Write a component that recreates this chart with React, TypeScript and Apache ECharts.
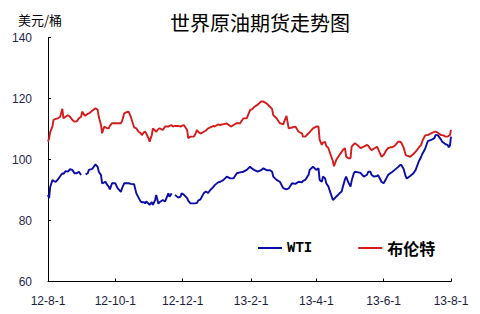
import React, { useEffect, useRef } from "react";
import * as echarts from "echarts";

const dates: string[] = [
  "2012-08-01","2012-08-02","2012-08-03","2012-08-05","2012-08-06","2012-08-08","2012-08-10","2012-08-12","2012-08-14","2012-08-15",
  "2012-08-17","2012-08-19","2012-08-21","2012-08-23","2012-08-25","2012-08-27","2012-08-29","2012-08-31","2012-09-01","2012-09-03",
  "2012-09-04","2012-09-06","2012-09-07","2012-09-10","2012-09-13","2012-09-15","2012-09-16","2012-09-18","2012-09-19","2012-09-21",
  "2012-09-22","2012-09-24","2012-09-25","2012-09-26","2012-09-28","2012-10-01","2012-10-03","2012-10-06","2012-10-07","2012-10-09",
  "2012-10-11","2012-10-13","2012-10-15","2012-10-18","2012-10-20","2012-10-22","2012-10-24","2012-10-25","2012-10-27","2012-10-28",
  "2012-10-29","2012-10-31","2012-11-01","2012-11-03","2012-11-04","2012-11-06","2012-11-07","2012-11-09","2012-11-10","2012-11-13",
  "2012-11-15","2012-11-18","2012-11-19","2012-11-21","2012-11-22","2012-11-24","2012-11-27","2012-11-29","2012-11-30","2012-12-02",
  "2012-12-05","2012-12-06","2012-12-08","2012-12-11","2012-12-12","2012-12-14","2012-12-15","2012-12-17","2012-12-20","2012-12-22",
  "2012-12-24","2012-12-26","2012-12-29","2012-12-30","2013-01-02","2013-01-04","2013-01-07","2013-01-10","2013-01-13","2013-01-14",
  "2013-01-16","2013-01-19","2013-01-22","2013-01-25","2013-01-28","2013-01-31","2013-02-02","2013-02-04","2013-02-07","2013-02-10",
  "2013-02-12","2013-02-15","2013-02-18","2013-02-20","2013-02-21","2013-02-24","2013-02-27","2013-03-02","2013-03-05","2013-03-07",
  "2013-03-10","2013-03-13","2013-03-16","2013-03-19","2013-03-20","2013-03-22","2013-03-25","2013-03-26","2013-03-29","2013-04-01",
  "2013-04-03","2013-04-04","2013-04-06","2013-04-07","2013-04-09","2013-04-10","2013-04-12","2013-04-14","2013-04-16","2013-04-17",
  "2013-04-19","2013-04-22","2013-04-24","2013-04-25","2013-04-27","2013-04-28","2013-04-30","2013-05-02","2013-05-03","2013-05-05",
  "2013-05-06","2013-05-09","2013-05-11","2013-05-14","2013-05-17","2013-05-18","2013-05-20","2013-05-21","2013-05-23","2013-05-26",
  "2013-05-27","2013-05-30","2013-06-01","2013-06-03","2013-06-05","2013-06-07","2013-06-09","2013-06-11","2013-06-14","2013-06-16",
  "2013-06-17","2013-06-19","2013-06-21","2013-06-22","2013-06-25","2013-06-28","2013-06-30","2013-07-01","2013-07-03","2013-07-05",
  "2013-07-06","2013-07-08","2013-07-09","2013-07-11","2013-07-14","2013-07-17","2013-07-18","2013-07-20","2013-07-21","2013-07-23",
  "2013-07-24","2013-07-26","2013-07-27","2013-07-29","2013-07-30","2013-07-31","2013-08-01",
];

const brent: (number | null)[] = [
  105.8,107.0,109.0,110.8,113.0,113.3,113.5,114.0,116.6,113.5,
  114.0,114.5,114.0,113.0,112.4,112.5,113.5,114.0,115.7,114.5,
  114.4,115.0,115.1,116.0,116.8,116.3,114.0,111.3,108.6,110.8,
  110.5,110.2,110.2,111.0,111.9,111.9,111.9,111.9,112.5,115.1,
  115.5,115.7,114.0,110.5,110.2,109.1,108.6,108.0,109.0,109.1,
  108.5,107.0,105.8,108.0,110.2,109.5,109.1,110.0,110.2,109.7,
  110.8,110.8,111.0,111.3,110.8,111.0,111.0,110.8,111.0,111.3,
  109.7,107.0,107.5,107.5,108.0,109.7,109.1,108.5,109.1,109.5,
  110.2,110.5,111.0,110.8,111.5,111.3,111.6,111.8,111.0,110.8,
  111.3,111.9,111.9,113.5,113.5,116.2,116.5,117.3,118.0,119.0,
  119.0,118.4,117.3,116.5,114.6,113.5,111.9,111.5,114.3,110.2,
  110.5,110.8,109.1,108.6,107.5,107.5,108.6,109.0,110.2,110.8,
  110.8,106.5,104.8,105.5,105.8,104.5,103.7,101.5,99.5,97.8,
  99.8,101.5,102.5,103.1,103.7,101.0,100.4,100.4,104.2,105.0,
  105.3,104.5,103.7,104.2,104.8,104.5,103.5,103.1,103.5,104.2,
  103.5,100.9,101.5,102.8,103.7,104.0,104.0,104.5,105.8,105.8,
  105.5,104.0,101.5,101.3,100.9,101.8,102.6,103.0,104.0,104.8,
  106.0,107.5,108.0,108.0,108.6,109.1,109.1,108.8,108.5,108.0,
  108.0,107.8,107.5,107.5,107.8,108.0,109.7,
];

const wti: (number | null)[] = [
  88.4,87.3,91.0,93.3,93.0,92.7,93.5,94.5,95.5,95.3,
  96.2,96.0,96.8,96.6,95.5,95.5,96.0,94.9,null,null,
  95.1,95.5,96.6,96.9,98.4,97.6,96.0,94.9,92.2,92.5,
  92.7,91.5,91.1,90.2,92.2,92.2,90.6,89.4,90.5,92.2,
  92.2,92.2,92.0,91.9,88.9,87.5,86.2,86.0,86.0,85.6,
  86.2,85.6,85.1,86.0,85.1,86.7,88.4,85.5,86.0,86.7,
  86.2,88.9,87.8,88.9,null,88.4,87.5,87.8,88.9,88.5,
  87.3,86.5,85.6,85.6,85.6,85.8,86.5,86.9,88.9,89.5,
  89.0,90.0,91.1,91.6,92.5,92.7,93.3,94.4,93.8,93.8,
  93.8,95.5,95.8,96.0,96.6,97.6,97.0,96.5,96.0,96.5,
  97.1,96.5,96.5,96.0,94.4,93.3,92.7,90.6,90.2,90.5,
  92.2,92.0,92.7,92.5,93.0,93.3,95.0,96.6,97.6,96.6,
  97.1,93.3,92.7,94.4,93.8,92.2,91.1,88.9,86.7,87.0,
  87.8,88.9,89.5,91.0,93.5,94.4,92.5,91.1,93.0,95.5,
  96.0,95.8,95.6,94.4,95.0,96.0,96.0,95.0,94.4,94.6,
  94.9,92.7,92.2,93.5,94.9,95.5,96.0,96.6,97.5,98.2,
  98.2,97.0,94.4,93.8,94.6,95.5,96.6,97.6,99.5,100.9,
  101.8,103.1,104.0,106.0,106.4,107.0,108.0,108.0,107.5,106.5,
  105.8,105.3,105.0,104.8,104.0,104.5,107.5,
];

const seriesNames: string[] = ["WTI", "布伦特"];
const tickDates: string[] = ["2012-08-01", "2012-10-01", "2012-12-01", "2013-02-01", "2013-04-01", "2013-06-01", "2013-08-01"];
const tickLabels: string[] = ["12-8-1", "12-10-1", "12-12-1", "13-2-1", "13-4-1", "13-6-1", "13-8-1"];

// day offset from the first tick date (UTC, so no DST effects)
const dayOf = (s: string) => {
  const [y, m, d] = s.split("-").map(Number);
  const [y0, m0, d0] = tickDates[0].split("-").map(Number);
  return Math.round((Date.UTC(y, m - 1, d) - Date.UTC(y0, m0 - 1, d0)) / 86400000);
};

export default function App() {
  const ref = useRef<HTMLDivElement>(null);
  useEffect(() => {
    if (!ref.current) return;
    const chart = echarts.init(ref.current, undefined, { renderer: "svg" });
    const pairs = (vals: (number | null)[]) => dates.map((d, i) => [dayOf(d), vals[i] === null ? "-" : vals[i]]);
    const tickDays = tickDates.map(dayOf);
    chart.setOption({
      animation: false,
      backgroundColor: "#ffffff",
      title: [
        {
          text: "世界原油期货走势图",
          left: 165,
          top: 7,
          textStyle: { fontFamily: "Noto Sans CJK SC", fontSize: 20, fontWeight: "normal", color: "#000000" },
        },
        {
          text: "美元/桶",
          left: 13,
          top: 8,
          textStyle: { fontFamily: "Noto Sans CJK SC", fontSize: 13, fontWeight: "normal", color: "#000000" },
        },
      ],
      legend: {
        left: 253,
        top: 235,
        icon: "rect",
        itemWidth: 24,
        itemHeight: 2,
        itemGap: 46,
        data: seriesNames,
        formatter: (name: string) => (name === "WTI" ? "{a|" + name + "}" : "{b|" + name + "}"),
        textStyle: {
          rich: {
            a: { fontFamily: "Liberation Mono", fontWeight: "bold", fontSize: 14, color: "#000000" },
            b: { fontFamily: "Noto Sans CJK SC", fontWeight: "bold", fontSize: 16, color: "#000000" },
          },
        },
      },
      grid: { left: 48, right: 29, top: 37.5, bottom: 32.5 },
      xAxis: {
        type: "value",
        min: tickDays[0],
        max: tickDays[tickDays.length - 1],
        axisLine: { lineStyle: { color: "#000000", width: 1 } },
        axisTick: { inside: true, length: 3, customValues: tickDays, lineStyle: { color: "#000000" } },
        axisLabel: {
          customValues: tickDays,
          margin: 13,
          fontSize: 12,
          fontFamily: "Liberation Sans",
          color: "#1c1c3c",
          formatter: (v: number) => {
            const i = tickDays.indexOf(Math.round(v));
            return i >= 0 ? tickLabels[i] : "";
          },
        },
        splitLine: { show: false },
      },
      yAxis: {
        type: "value",
        min: 60,
        max: 140,
        interval: 20,
        axisLine: { show: true, lineStyle: { color: "#000000", width: 1 } },
        axisTick: { show: true, inside: true, length: 3, lineStyle: { color: "#000000" } },
        axisLabel: { margin: 16, fontSize: 12, fontFamily: "Liberation Sans", color: "#2b1f4f" },
        splitLine: { show: false },
      },
      series: [
        {
          name: seriesNames[0],
          type: "line",
          data: pairs(wti),
          showSymbol: false,
          symbol: "none",
          connectNulls: false,
          color: "#0c0ca6",
          lineStyle: { width: 1.9, color: "#0c0ca6" },
        },
        {
          name: seriesNames[1],
          type: "line",
          data: pairs(brent),
          showSymbol: false,
          symbol: "none",
          connectNulls: false,
          color: "#d41c1c",
          lineStyle: { width: 1.9, color: "#d41c1c" },
        },
      ],
    });
    return () => chart.dispose();
  }, []);
  return <div ref={ref} style={{ position: "fixed", left: 0, top: 0, width: 480, height: 314 }} />;
}
